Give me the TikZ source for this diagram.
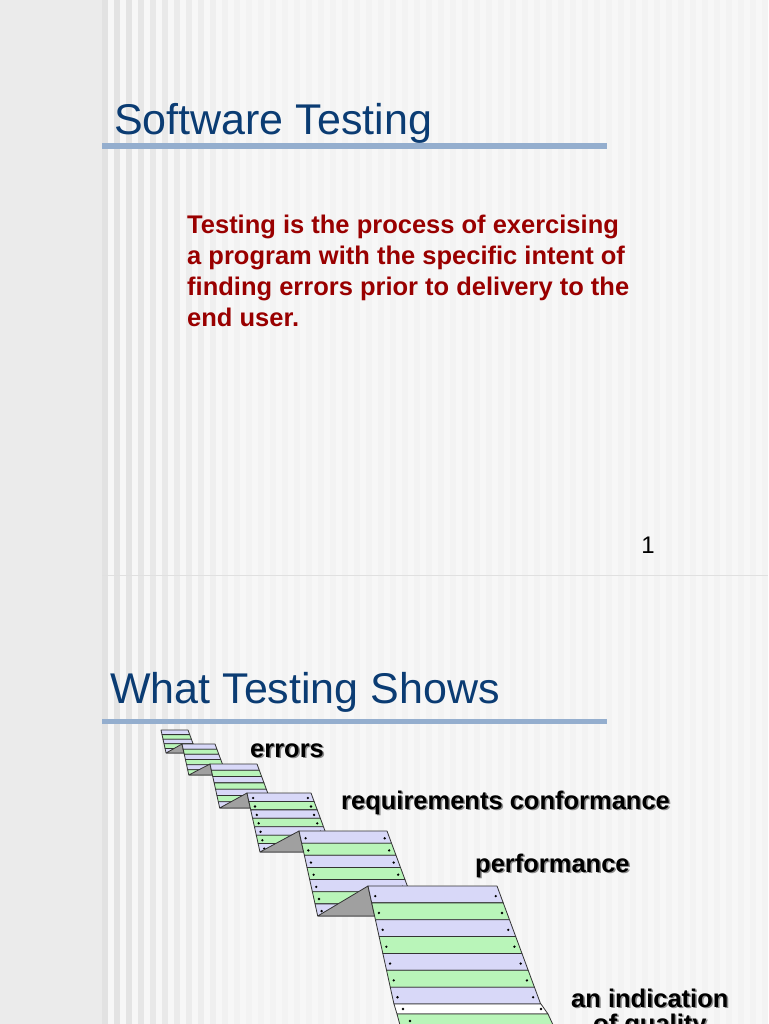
\documentclass[tikz,border=0pt]{standalone}
\usepackage{fontspec}
\setmainfont{Liberation Sans}
\definecolor{titleblue}{HTML}{0B3C73}
\definecolor{rulecol}{HTML}{94AECE}
\definecolor{bodyred}{HTML}{990000}
\definecolor{lav}{HTML}{D8D8F8}
\definecolor{grn}{HTML}{B9F5B9}
\definecolor{foldgray}{HTML}{A0A0A0}
\begin{document}
\begin{tikzpicture}[x=1pt,y=-1pt,line join=bevel,
  titletext/.style={anchor=base west,inner sep=0pt,text=titleblue,font=\fontsize{43}{45}\selectfont},
  bodytext/.style={anchor=base west,inner sep=0pt,text=bodyred,align=left,font=\fontsize{25.5}{31}\selectfont\bfseries},
  stairtext/.style={anchor=base west,inner sep=0pt,font=\fontsize{25.5}{28}\selectfont\bfseries},
  strip/.style={draw=black!80,line width=0.8pt}]
%% background
\useasboundingbox (0,0) rectangle (768,1024);
\fill[black!8] (0,0) rectangle (768,1024);
\fill[black!3] (102,0) rectangle (768,1024);
\foreach \sx [count=\c] in {102,114,126,138,150,162,174,186,198,210,222,234,246,258,270,282,294,306,318,330,342,354,366,378,390,402,414,426,438,450,462,474,486,498,510,522,534,546,558,570,582,594,606,618,630,642,654,666,678,690,702,714,726,738,750,762}{
  \pgfmathsetmacro\op{max(0.12,0.9-0.06*\c)}
  \fill[black!13,opacity=\op] (\sx,0) rectangle ++(6,1024);
}
\draw[black!12,line width=0.6pt] (102,575) -- (768,575);
%% slide 1
\node[titletext] (title1) at (114,135) {Software Testing};
\fill[rulecol] (102,143.5) rectangle (607,149);
\node[bodytext] (body) at (187,326) {Testing is the process of exercising\\a program with the specific intent of\\finding errors prior to delivery to the\\end user.};
\node[anchor=base,inner sep=0pt,font=\fontsize{24}{26}\selectfont] (pagenum) at (648,553) {1};
%% slide 2
\node[titletext] (title2) at (110,703) {What Testing Shows};
\fill[rulecol] (102,718.5) rectangle (607,724);
%% stair of sheets
\foreach \x/\y/\w/\h/\n [remember=\x as \px (initially 0),remember=\y as \py (initially 0),remember=\h as \ph (initially 0)] in
  {161/730/27/23/5, 182/744/33/31/6, 210/764/47/44/7, 247/793/64/59/7, 299/831/88/85/7, 368/886/129/118/7}{
  % fold between sheets
  \ifdim\px pt>0pt
    \pgfmathsetmacro\yb{\py+\ph}
    \fill[foldgray,draw=black!80,line width=0.8pt] (\px+0.22*\ph,\yb) -- (\x,\y) -- (\x+0.22*\yb-0.22*\y,\yb) -- cycle;
  \fi
  \pgfmathsetmacro\sh{\h/\n}
  \foreach \i in {1,...,\n}{
    \pgfmathsetmacro\ya{(\i-1)*\sh}
    \pgfmathsetmacro\yc{\i*\sh}
    \pgfmathparse{isodd(\i)?"lav":"grn"}\edef\sc{\pgfmathresult}
    \filldraw[strip,fill=\sc] (\x+0.22*\ya,\y+\ya) -- (\x+\w+0.37*\ya,\y+\ya) -- (\x+\w+0.37*\yc,\y+\yc) -- (\x+0.22*\yc,\y+\yc) -- cycle;
    \ifdim\w pt>50pt
      \pgfmathsetmacro\yd{\ya+0.6*\sh}
      \fill (\x+0.22*\yd+5,\y+\yd) circle (1.3);
      \fill (\x+\w+0.37*\yd-5,\y+\yd) circle (1.3);
    \fi
  }
}
% lower end of the last sheet
\filldraw[strip,fill=white] (394,1004) -- (541,1004) -- (548,1014) -- (397,1014) -- cycle;
\filldraw[strip,fill=grn] (397,1014) -- (548,1014) -- (560,1040) -- (404,1040) -- cycle;
\fill (403,1009) circle (1.3); \fill (541,1009) circle (1.3); \fill (410,1021) circle (1.3);
%% labels
\foreach \lx/\ly/\lt/\ln in {250/757/errors/lerr, 341/809/requirements conformance/lreq, 475/872/performance/lperf, 571/1007/an indication/lind}{
  \node[stairtext,text=black!45] at (\lx+1.5,\ly+1.5) {\lt};
  \node[stairtext] (\ln) at (\lx,\ly) {\lt};
}
\node[stairtext,text=black!45] at (594.5,1033.5) {of quality};
\node[stairtext] (lqual) at (593,1032) {of quality};
\end{tikzpicture}
\end{document}
